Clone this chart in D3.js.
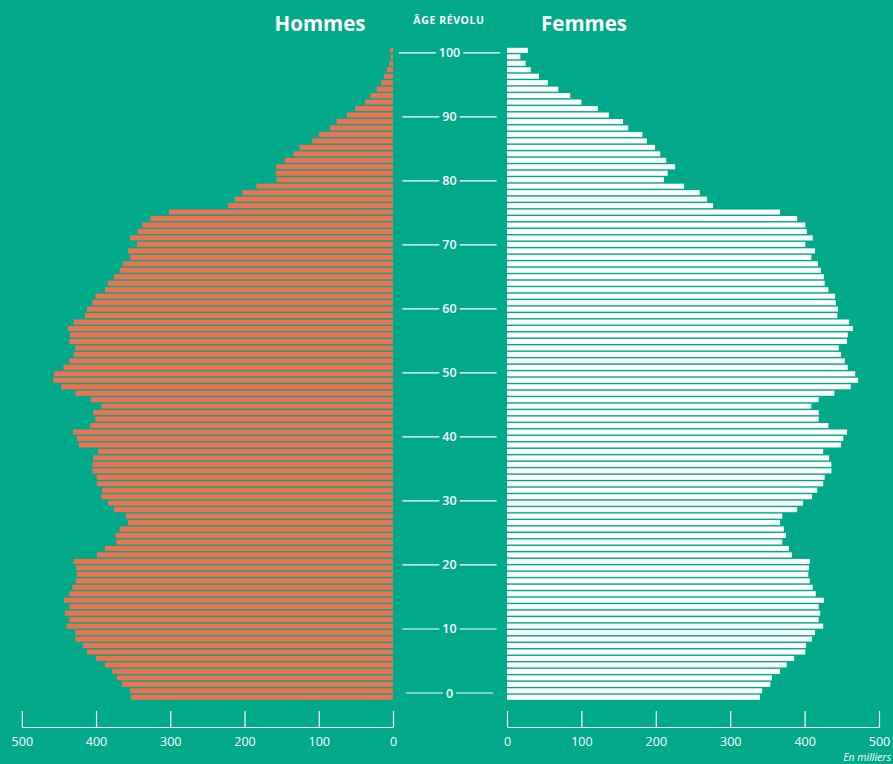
<!DOCTYPE html>
<html>
<head>
<meta charset="utf-8">
<script src="https://cdn.jsdelivr.net/npm/d3@7"></script>
<style>
  html, body { margin: 0; padding: 0; background: #00a98a; }
  svg { display: block; font-family: "Open Sans", sans-serif; }
</style>
</head>
<body>
<div class="grafico"></div>
<script>
/*Datos: edades 0..100*/
const ages = d3.range(0, 101);

/*Hommes, en milliers (index = âge)*/
const hommes = [
  353, 354, 365, 372, 378, 388, 400, 412, 418, 428,
  428, 440, 436, 442, 436, 443, 436, 432, 427, 426,
  427, 430, 399, 388, 373, 374, 368, 357, 360, 376,
  384, 393, 392, 399, 399, 405, 405, 404, 397, 423,
  426, 431, 408, 401, 404, 393, 407, 428, 447, 458,
  457, 444, 436, 430, 428, 436, 435, 438, 430, 415,
  412, 405, 401, 388, 384, 376, 368, 364, 354, 357,
  345, 354, 344, 338, 327, 302, 222, 213, 203, 184,
  157, 158, 157, 146, 134, 126, 109, 100, 85, 76,
  62, 51, 38, 30, 22, 16, 12, 8, 5, 3,
  4
];

/*Femmes, en milliers (index = âge)*/
const femmes = [
  340, 343, 354, 356, 367, 376, 386, 401, 402, 410,
  414, 425, 419, 421, 419, 426, 415, 411, 407, 405,
  406, 407, 383, 379, 370, 375, 372, 367, 370, 390,
  398, 410, 417, 425, 427, 436, 436, 433, 425, 449,
  452, 457, 432, 419, 419, 409, 419, 440, 462, 472,
  468, 458, 454, 449, 446, 457, 458, 465, 460, 444,
  445, 442, 441, 432, 427, 426, 422, 418, 409, 414,
  401, 411, 403, 401, 390, 367, 277, 269, 259, 238,
  211, 216, 226, 214, 206, 199, 188, 182, 163, 156,
  137, 122, 100, 85, 69, 55, 43, 32, 25, 18,
  28
];

const ageLabels = [0, 10, 20, 30, 40, 50, 60, 70, 80, 90, 100];
const axisTicks = [0, 100, 200, 300, 400, 500];

const w = 893;
const h = 764;
const bg = '#00a98a';
const orange = '#ef7350';

/*Escalas*/
const xL = d3.scaleLinear().domain([0, 500]).range([393, 21.8]);
const xR = d3.scaleLinear().domain([0, 500]).range([507, 879]);
const y = d3.scaleBand()
  .domain(ages)
  .range([700.5, 47.1])
  .paddingInner(0.22)
  .paddingOuter(0.11);
const yLab = d3.scaleLinear().domain([0, 100]).range([693, 52.8]);

const svg = d3.select('.grafico')
  .append('svg')
  .attr('width', w)
  .attr('height', h);

svg.append('rect')
  .attr('width', w)
  .attr('height', h)
  .attr('fill', bg);

/*Títulos*/
svg.append('text')
  .attr('x', 320).attr('y', 31)
  .attr('text-anchor', 'middle')
  .attr('fill', '#fff')
  .attr('font-size', 20.5)
  .attr('font-weight', 700)
  .text('Hommes');

svg.append('text')
  .attr('x', 584).attr('y', 31)
  .attr('text-anchor', 'middle')
  .attr('fill', '#fff')
  .attr('font-size', 20.5)
  .attr('font-weight', 700)
  .text('Femmes');

svg.append('text')
  .attr('x', 449).attr('y', 24)
  .attr('text-anchor', 'middle')
  .attr('fill', '#fff')
  .attr('font-size', 10.5)
  .attr('font-weight', 700)
  .attr('letter-spacing', 0.6)
  .text('ÂGE RÉVOLU');

/*Barras hombres*/
svg.append('g')
  .selectAll('rect')
  .data(ages)
  .enter()
  .append('rect')
  .attr('x', (d) => xL(hommes[d]))
  .attr('y', (d) => y(d))
  .attr('width', (d) => xL(0) - xL(hommes[d]))
  .attr('height', y.bandwidth())
  .attr('fill', orange);

/*Barras mujeres*/
svg.append('g')
  .selectAll('rect')
  .data(ages)
  .enter()
  .append('rect')
  .attr('x', xR(0))
  .attr('y', (d) => y(d))
  .attr('width', (d) => xR(femmes[d]) - xR(0))
  .attr('height', y.bandwidth())
  .attr('fill', '#fff');

/*Etiquetas de edad con líneas*/
const labs = svg.append('g')
  .selectAll('g')
  .data(ageLabels)
  .enter()
  .append('g')
  .attr('transform', (d) => `translate(449.5,${yLab(d)})`);

labs.append('text')
  .attr('text-anchor', 'middle')
  .attr('dy', '0.36em')
  .attr('fill', '#fff')
  .attr('font-size', 12.5)
  .attr('font-weight', 600)
  .text((d) => d);

labs.each(function () {
  const g = d3.select(this);
  const tw = g.select('text').node().getComputedTextLength();
  const gap = tw / 2 + 3;
  g.append('line')
    .attr('x1', -gap - 37).attr('x2', -gap)
    .attr('stroke', '#fff').attr('stroke-width', 1.2);
  g.append('line')
    .attr('x1', gap).attr('x2', gap + 37)
    .attr('stroke', '#fff').attr('stroke-width', 1.2);
});

/*Ejes*/
const axisY = 727;
const styleAxis = (g) => {
  g.attr('font-family', null).attr('font-size', null);
  g.selectAll('.domain').attr('stroke', '#fff').attr('stroke-width', 1.2);
  g.selectAll('.tick line').attr('stroke', '#fff').attr('stroke-width', 1.2);
  g.selectAll('.tick text')
    .attr('fill', '#fff')
    .attr('font-size', 12.5);
};

svg.append('g')
  .attr('transform', `translate(0,${axisY})`)
  .call(d3.axisBottom(xL).tickValues(axisTicks).tickSize(-16).tickSizeOuter(0).tickPadding(10))
  .call(styleAxis);

svg.append('g')
  .attr('transform', `translate(0,${axisY})`)
  .call(d3.axisBottom(xR).tickValues(axisTicks).tickSize(-16).tickSizeOuter(0).tickPadding(10))
  .call(styleAxis);

svg.append('text')
  .attr('x', 891)
  .attr('y', 761)
  .attr('text-anchor', 'end')
  .attr('fill', '#fff')
  .attr('font-size', 10.5)
  .attr('font-style', 'italic')
  .text('En milliers');
</script>
</body>
</html>
